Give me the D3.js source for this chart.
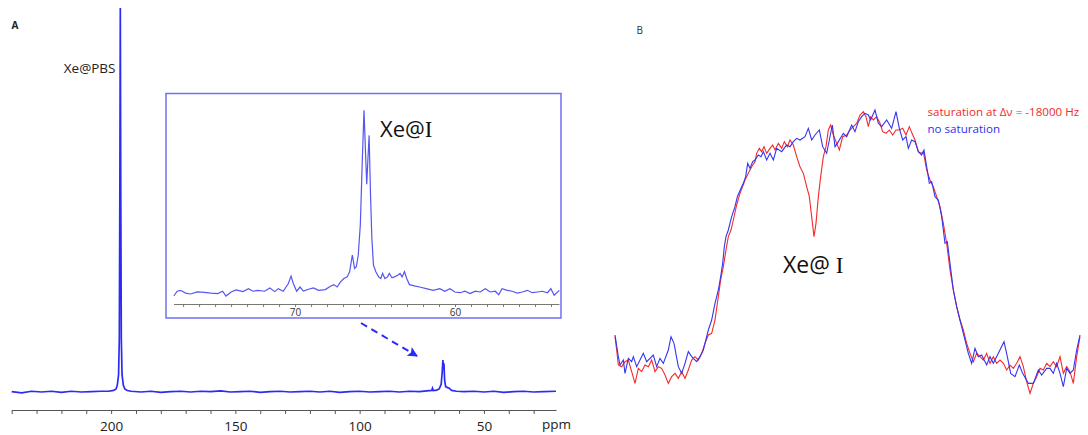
<!DOCTYPE html>
<html><head><meta charset="utf-8">
<script src="https://cdn.jsdelivr.net/npm/d3@7/dist/d3.min.js"></script>
<style>body{margin:0;background:#fff}svg{display:block}text{font-family:"Open Sans",sans-serif}</style>
</head><body><svg id="c" width="1088" height="435"></svg>
<script>
// ---------- Panel A: full spectrum (ppm, relative intensity) ----------
const mainPPM = [240,236,232,228,224,220,216,212,208,204,201,199,198,197.5,197,196.7,196.5,196.3,196.1,195.9,195.6,195.1,194.5,193.5,192,188,184,180,176,172,168,164,160,156,152,148,144,140,136,132,128,124,120,116,112,108,104,100,96,92,88,84,80,76,73,71,70.7,70.4,69,68,67.2,66.8,66.5,66.3,66.1,65.8,65.4,64.8,64,63,61,58,54,50,46,42,38,34,30,26,21];
const mainInt = [0.001,-0.002,0.002,0,0.002,-0.001,0.002,0,0.001,0.002,0.002,0.004,0.008,0.018,0.045,0.14,0.5,1.0,0.5,0.14,0.045,0.018,0.008,0.004,0.002,0,0.002,-0.001,0.001,0.002,0,0.002,0.001,0.003,0,0.001,0.002,-0.001,0.001,0.002,0,0.001,0.002,0,0.002,-0.001,0.001,0.002,0,0.001,0.002,0,0.002,0.001,0.003,0.004,0.01,0.004,0.005,0.008,0.02,0.05,0.083,0.06,0.075,0.03,0.014,0.012,0.01,0.004,0.002,0.001,0.002,0,0.002,-0.001,0.001,0.002,0,0.001,0.002];
const mainTicks = [200,150,100,50];
// ---------- Inset: expansion around Xe@I ----------
const insetPPM = [77.58,77.37,77.16,76.84,76.53,76.11,75.68,75.26,74.84,74.53,74.32,74.00,73.69,73.26,72.91,72.63,72.32,71.90,71.58,71.27,71.05,70.74,70.42,70.25,70.11,69.90,69.69,69.48,69.16,68.85,68.53,68.11,67.79,67.58,67.37,67.16,66.95,66.74,66.59,66.42,66.28,66.17,66.05,65.92,65.79,65.69,65.60,65.52,65.44,65.37,65.29,65.20,65.10,64.95,64.78,64.64,64.53,64.38,64.22,64.11,63.94,63.79,63.58,63.44,63.31,63.16,63.02,62.85,62.53,62.22,61.80,61.37,60.95,60.64,60.32,60.01,59.69,59.38,59.06,58.74,58.43,58.11,57.80,57.48,57.27,57.06,56.74,56.43,56.11,55.80,55.48,55.17,54.85,54.54,54.22,54.01,53.80,53.48];
const insetInt = [-0.011,0.015,0.020,0.005,0.000,0.011,0.009,0.005,0.002,0.015,-0.011,0.011,0.022,0.013,0.029,0.015,0.020,0.015,0.033,0.013,0.029,0.015,0.057,0.097,0.057,0.015,0.038,0.016,0.026,0.033,0.020,0.024,0.042,0.051,0.038,0.066,0.084,0.093,0.121,0.212,0.139,0.148,0.212,0.377,0.743,0.999,0.779,0.597,0.743,0.862,0.560,0.304,0.157,0.121,0.093,0.084,0.112,0.084,0.093,0.112,0.088,0.093,0.102,0.112,0.093,0.121,0.084,0.051,0.044,0.038,0.029,0.020,0.029,0.015,0.029,0.011,0.007,0.015,0.002,0.015,0.011,0.029,0.011,0.015,-0.004,0.029,0.020,0.015,0.005,0.011,0.020,0.007,0.011,0.015,0.007,0.029,-0.007,0.020];
const insetTicks = [70,60];
// ---------- Panel B: two spectra (channel, signal a.u.) ----------
const blueX = [45,55,60,70,75,85,95,100,110,120,130,140,160,170,180,190,205,213,222,235,245,255,265,275,290,300,310,325,335,345,355,362,368,373,378,385,395,405,412,425,430,437,443,450,458,465,475,483,490,500,510,520,530,545,560,570,580,590,600,615,625,635,645,658,668,680,688,697,705,712,730,740,755,765,775,785,795,805,812,825,835,845,860,875,888,898,908,918,925,935,945,955,965,972,980,988,995,1005,1015,1025,1035,1042,1050,1060,1070,1080,1090,1105,1115,1125,1135,1145,1160,1170,1180,1195,1212,1222,1232,1245,1258,1268,1285,1300,1315,1325,1340,1350,1360,1370,1380,1390,1400,1410,1420,1430,1440];
const blueY = [265,200,175,190,150,195,185,200,170,190,210,185,205,170,195,180,220,260,240,170,150,180,215,200,185,200,220,280,310,360,400,440,480,530,560,580,620,650,680,710,720,740,780,765,785,790,805,800,815,790,810,790,825,815,835,830,845,855,850,860,885,850,865,880,830,810,850,895,830,840,870,860,895,875,905,920,930,925,910,940,900,890,910,885,935,885,850,860,825,850,845,815,805,820,770,720,725,680,670,620,540,545,480,400,350,310,270,210,180,225,200,205,175,200,180,210,245,200,150,140,175,150,120,120,160,145,165,165,150,180,150,110,165,150,160,220,265];
const redX = [45,50,55,65,75,85,95,105,115,125,135,145,155,165,175,185,195,205,215,225,235,245,255,265,275,285,295,305,315,325,335,345,355,362,370,378,385,393,400,410,420,428,435,445,455,465,470,478,485,492,500,510,518,525,535,545,553,562,570,580,590,600,610,620,628,635,642,648,655,662,670,678,685,692,700,710,718,728,740,750,760,770,780,790,798,805,812,820,830,840,848,858,868,878,888,898,908,918,928,936,945,955,963,970,980,990,1000,1010,1020,1030,1040,1050,1060,1070,1080,1090,1100,1110,1120,1130,1140,1150,1160,1170,1180,1190,1200,1210,1220,1230,1240,1250,1260,1270,1280,1290,1300,1310,1320,1330,1340,1350,1360,1370,1380,1390,1400,1410,1420,1430,1440];
const redY = [260,220,175,170,185,190,155,120,165,155,175,170,190,155,170,165,145,120,140,150,135,155,135,160,190,200,190,210,240,265,270,310,380,430,470,520,560,580,610,655,690,710,730,750,770,785,810,825,815,830,810,825,835,820,840,825,845,830,850,835,800,770,750,710,680,620,560,600,680,740,800,830,880,895,865,840,820,860,865,880,890,900,925,935,920,890,920,910,920,900,875,870,880,865,880,880,885,865,890,870,850,815,810,815,760,730,710,680,650,600,540,460,400,350,310,280,240,210,185,210,200,190,210,180,200,180,190,180,160,175,165,180,200,170,125,90,120,140,165,160,180,170,185,170,200,150,170,155,120,200,260];
const legendLabels = ["saturation at \u0394\u03bd = -18000 Hz", "no saturation"];

const svg = d3.select("#c");
const blueA = "#2b2bf5", blueInset = "#5555f3";

// ---- Panel A ----
const xA = d3.scaleLinear().domain([240, 21]).range([11.7, 556]);
const yA = d3.scaleLinear().domain([0, 1]).range([392, 8]);
const axA = svg.append("g").attr("transform", "translate(0,410)")
  .call(d3.axisBottom(xA).tickValues(d3.range(240, 20, -10)).tickSize(4).tickSizeOuter(0)
    .tickFormat(d => mainTicks.includes(d) ? d : ""));
axA.select(".domain").attr("stroke", "#555");
axA.selectAll(".tick line").attr("stroke", "#555");
axA.selectAll(".tick text").attr("font-size", 13.5).attr("fill", "#222").attr("dy", "1.05em");
svg.append("text").attr("x", 542).attr("y", 429).attr("font-size", 13.5).attr("fill", "#222").text("ppm");

const lineA = d3.line().x((d, i) => xA(mainPPM[i])).y(d => yA(d));
svg.append("path").attr("d", lineA(mainInt)).attr("fill", "none").attr("stroke", blueA).attr("stroke-width", 1.7);

svg.append("text").attr("x", 11.5).attr("y", 28.5).attr("font-size", 10).attr("font-weight", "bold").attr("fill", "#222").text("A");
svg.append("text").attr("x", 115.5).attr("y", 72.5).attr("text-anchor", "end").attr("font-size", 13.5).attr("fill", "#222").text("Xe@PBS");

// dashed arrow
svg.append("defs").append("marker").attr("id", "ah").attr("viewBox", "0 0 10 10").attr("refX", 9).attr("refY", 5)
  .attr("markerWidth", 6).attr("markerHeight", 5).attr("orient", "auto").attr("markerUnits", "strokeWidth")
  .append("path").attr("d", "M0,0 L10,5 L0,10 L2,5 Z").attr("fill", blueA);
svg.append("line").attr("x1", 361).attr("y1", 323).attr("x2", 417).attr("y2", 356)
  .attr("stroke", blueA).attr("stroke-width", 2).attr("stroke-dasharray", "7,5").attr("marker-end", "url(#ah)");

// ---- Inset ----
svg.append("rect").attr("x", 166).attr("y", 93.5).attr("width", 395).attr("height", 224.5)
  .attr("fill", "#fff").attr("stroke", "#6f6ff5").attr("stroke-width", 1.5);
const xI = d3.scaleLinear().domain([77.6, 53.5]).range([173.5, 559]);
const yI = d3.scaleLinear().domain([0, 1]).range([294, 110]);
const axI = svg.append("g").attr("transform", "translate(0,304)")
  .call(d3.axisBottom(xI).tickValues(d3.range(77, 53, -1)).tickSize(3).tickSizeOuter(0)
    .tickFormat(d => insetTicks.includes(d) ? d : ""));
axI.select(".domain").attr("stroke", "#777");
axI.selectAll(".tick line").attr("stroke", "#777");
axI.selectAll(".tick text").attr("font-size", 10).attr("fill", "#333").attr("dy", "0.6em");
const lineI = d3.line().x((d, i) => xI(insetPPM[i])).y(d => yI(d));
svg.append("path").attr("d", lineI(insetInt)).attr("fill", "none").attr("stroke", blueInset).attr("stroke-width", 1.2);
const tI = svg.append("text").attr("x", 380).attr("y", 137).attr("font-size", 22).attr("fill", "#111");
tI.append("tspan").text("Xe@");
tI.append("tspan").attr("font-family", "Liberation Serif, serif").attr("font-size", 23).text("I");

// ---- Panel B ----
svg.append("text").attr("x", 636.5).attr("y", 34).attr("font-size", 10).attr("fill", "#333").text("B");
const xB = d3.scaleLinear().domain([0, 1464]).range([600, 1088]);
const yB = d3.scaleLinear().domain([0, 1000]).range([90 + 1000 / 3, 90]);
const lineRed = d3.line().x((d, i) => xB(redX[i])).y(d => yB(d));
const lineBlue = d3.line().x((d, i) => xB(blueX[i])).y(d => yB(d));
svg.append("path").attr("d", lineRed(redY)).attr("fill", "none").attr("stroke", "#f42a2a").attr("stroke-width", 1.1);
svg.append("path").attr("d", lineBlue(blueY)).attr("fill", "none").attr("stroke", "#3434f2").attr("stroke-width", 1.1);
svg.append("text").attr("x", 927.5).attr("y", 116).attr("font-size", 11.6).attr("fill", "#f42a2a").text(legendLabels[0]);
svg.append("text").attr("x", 927.5).attr("y", 133.3).attr("font-size", 11.6).attr("fill", "#2f2ff2").text(legendLabels[1]);
const tB = svg.append("text").attr("x", 783).attr("y", 272.5).attr("font-size", 23).attr("fill", "#111");
tB.append("tspan").text("Xe@ ");
tB.append("tspan").attr("font-family", "Liberation Serif, serif").text("I");
</script></body></html>
